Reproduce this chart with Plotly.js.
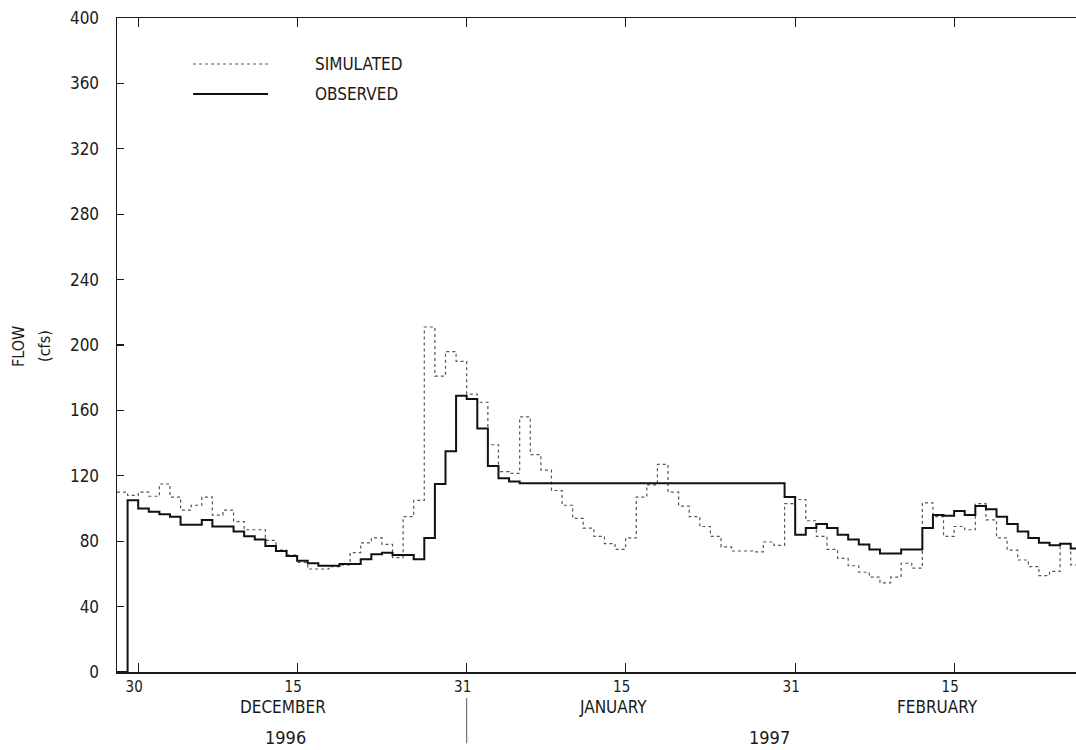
<!DOCTYPE html>
<html><head><meta charset="utf-8">
<script src="https://cdn.plot.ly/plotly-3.0.1.min.js"></script>
<style>html,body{margin:0;padding:0;background:#fff;overflow:hidden}</style>
</head><body><div id="chart" style="width:1076px;height:750px"></div>
<script>
// Daily mean flow, one value per day starting 1996-11-28
const startDay = [1996, 10, 28]; // year, month index, day
const simulated = [110, 108, 110, 107.5, 115, 107, 99, 102, 107, 96,
  99, 92, 87, 87, 80.5, 74.5, 71.5, 67, 63, 63,
  64.5, 65.5, 73, 79, 82, 78, 70, 95, 105, 211,
  181, 196, 190, 170, 165, 139, 122.5, 121.5, 156, 133,
  123.5, 111, 102, 94, 88, 83, 78.5, 75, 82, 107,
  114.5, 127, 110, 101.5, 95, 89, 83, 76.5, 74, 74,
  73.5, 79.5, 77.5, 103, 105.5, 92.5, 83, 75, 69.5, 65,
  61, 58, 54.5, 58, 66.5, 63.5, 103.5, 95, 83, 89,
  87, 103, 93, 82, 74.5, 68.5, 64.5, 59, 61.5, 78.5,
  65.5];
const observed = [0, 105, 100, 98, 96.5, 95, 90, 90, 93, 89,
  89, 86, 83, 81, 77, 74, 71, 68, 66.5, 65,
  65, 66, 66, 69, 72, 73, 71.5, 71.5, 69, 82,
  115, 135, 169, 167, 149, 126, 118.5, 116.5, 115.5, 115.5,
  115.5, 115.5, 115.5, 115.5, 115.5, 115.5, 115.5, 115.5, 115.5, 115.5,
  115.5, 115.5, 115.5, 115.5, 115.5, 115.5, 115.5, 115.5, 115.5, 115.5,
  115.5, 115.5, 115.5, 107, 84, 88, 90.5, 88, 84, 81,
  78, 75, 72.5, 72.5, 75, 75, 88, 96, 95.5, 98.5,
  96, 101.5, 99.5, 95, 90.5, 86, 82, 79, 77.5, 78.5,
  75.5];
const tickDates = ['1996-11-30', '1996-12-15', '1996-12-31', '1997-01-15', '1997-01-31', '1997-02-15'];
const tickLabels = ['30', '15', '31', '15', '31', '15'];
const monthEndTicks = ['1996-11-30', '1996-12-31', '1997-01-31'];
const monthLabels = ['DECEMBER', 'JANUARY', 'FEBRUARY'];
const yearLabels = ['1996', '1997'];
const yearBoundary = '1996-12-31';
const seriesNames = ['SIMULATED', 'OBSERVED'];
const yTitleLines = ['FLOW', '(cfs)'];

function dayString(i) {
  const d = new Date(Date.UTC(startDay[0], startDay[1], startDay[2] + i));
  return d.toISOString().slice(0, 10);
}
function stepXY(vals) {
  const x = vals.map((v, i) => dayString(i));
  x.push(dayString(vals.length));
  const y = vals.slice();
  y.push(vals[vals.length - 1]);
  return {x, y};
}
const FONT = '"Liberation Sans Narrow", "DejaVu Sans Condensed", "DejaVu Sans", sans-serif';
const INK = '#1a1a1a';
const s = stepXY(simulated), o = stepXY(observed);
const xRange = ['1996-11-28', '1997-02-26 12:00'];

const traces = [
  {x: s.x, y: s.y, type: 'scatter', mode: 'lines', name: seriesNames[0],
   line: {shape: 'hv', color: '#555', width: 1.2, dash: 'dot'}, hoverinfo: 'x+y'},
  {x: o.x, y: o.y, type: 'scatter', mode: 'lines', name: seriesNames[1],
   line: {shape: 'hv', color: '#111', width: 2}, hoverinfo: 'x+y'}
];

function note(x, y, text, size, extra) {
  return Object.assign({xref: 'paper', yref: 'paper', x: x, y: y, text: text, showarrow: false,
    xanchor: 'center', yanchor: 'middle', font: {family: FONT, size: size, color: INK}}, extra || {});
}

const layout = {
  width: 1076, height: 750,
  margin: {l: 117, r: 0, t: 18, b: 78},
  paper_bgcolor: '#fff', plot_bgcolor: '#fff',
  showlegend: false,
  font: {family: FONT, size: 16, color: INK},
  xaxis: {
    type: 'date', range: xRange,
    tickmode: 'array', tickvals: tickDates, ticktext: tickLabels,
    ticks: 'inside', ticklen: 9, tickwidth: 1.2, tickcolor: INK,
    showline: true, linecolor: INK, linewidth: 1.5, mirror: 'ticks',
    showgrid: false, zeroline: false, ticklabelshift: -4, ticklabelstandoff: 0,
    tickfont: {family: FONT, size: 15, color: INK}
  },
  xaxis2: {
    type: 'date', range: xRange, overlaying: 'x', anchor: 'y', side: 'bottom',
    tickmode: 'array', tickvals: monthEndTicks, ticktext: ['', '', ''],
    showticklabels: false,
    ticks: 'inside', ticklen: 13, tickwidth: 1.2, tickcolor: INK,
    showline: false, mirror: 'ticks', showgrid: false, zeroline: false
  },
  yaxis: {
    range: [0, 400], tickmode: 'linear', tick0: 0, dtick: 40,
    ticks: 'inside', ticklen: 7, tickwidth: 1.2, tickcolor: INK,
    showline: true, linecolor: INK, linewidth: 1.5, mirror: false,
    showgrid: false, zeroline: false, ticklabelstandoff: 13,
    tickfont: {family: FONT, size: 17, color: INK}
  },
  shapes: [
    {type: 'line', xref: 'paper', yref: 'paper', x0: 0.0793, x1: 0.1575, y0: 0.9297, y1: 0.9297,
     line: {color: '#555', width: 1.2, dash: 'dot'}},
    {type: 'line', xref: 'paper', yref: 'paper', x0: 0.0793, x1: 0.1575, y0: 0.8838, y1: 0.8838,
     line: {color: '#111', width: 2}},
    {type: 'line', xref: 'x', yref: 'paper', x0: yearBoundary, x1: yearBoundary, y0: -0.04, y1: -0.109,
     line: {color: '#555', width: 1}}
  ],
  annotations: [
    note(0.2044, 0.9297, seriesNames[0], 17, {xanchor: 'left'}),
    note(0.2044, 0.8838, seriesNames[1], 17, {xanchor: 'left'}),
    note(-0.1022, 0.4985, yTitleLines[0], 16, {textangle: -90}),
    note(-0.0751, 0.4985, yTitleLines[1], 16, {textangle: -90}),
    note(0.1731, -0.0531, monthLabels[0], 17),
    note(0.5172, -0.0531, monthLabels[1], 17),
    note(0.8561, -0.0531, monthLabels[2], 17),
    note(0.1762, -0.0994, yearLabels[0], 18),
    note(0.6809, -0.0994, yearLabels[1], 18)
  ]
};
Plotly.newPlot('chart', traces, layout, {displayModeBar: false, staticPlot: true});
</script>
</body></html>
